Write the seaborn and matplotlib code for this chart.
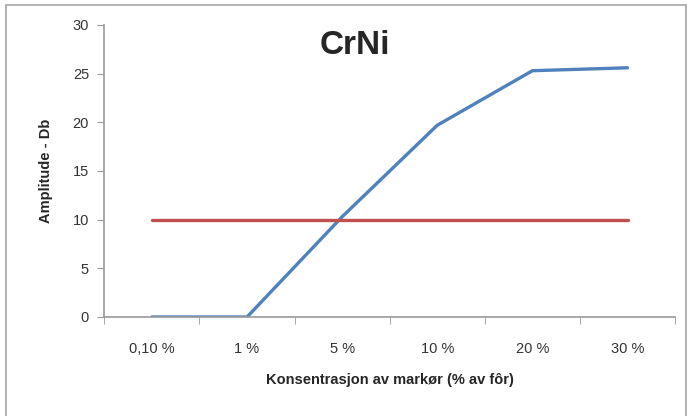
import pandas as pd
import matplotlib.pyplot as plt
import seaborn as sns
from matplotlib.patches import Rectangle

# --- data ---
kategorier = ["0,10 %", "1 %", "5 %", "10 %", "20 %", "30 %"]
amplitude = [0, 0, 10.3, 19.7, 25.3, 25.6]
grense = [10, 10, 10, 10, 10, 10]

df = pd.DataFrame({
    "konsentrasjon": kategorier * 2,
    "verdi": amplitude + grense,
    "serie": ["CrNi"] * len(kategorier) + ["Grense"] * len(kategorier),
})

sns.set_style("white")
plt.rcParams["font.family"] = ["Liberation Sans", "DejaVu Sans"]

fig = plt.figure(figsize=(6.91, 4.16), dpi=100)
ax = fig.add_axes([0.151, 0.238, 0.826, 0.702])

sns.lineplot(data=df, x="konsentrasjon", y="verdi", hue="serie",
             palette=["#4F81BD", "#C0504D"], linewidth=2.4, legend=False,
             sort=False, ax=ax)

ax.set_xlim(-0.5, len(kategorier) - 0.5)
ax.set_ylim(0, 30)
ax.set_yticks(range(0, 31, 5))
ax.set_xticks(range(len(kategorier)))
ax.set_xticklabels(kategorier)
ax.set_xticks([i - 0.5 for i in range(len(kategorier) + 1)], minor=True)

ax.tick_params(axis="x", which="major", length=0, pad=18, labelsize=10.5, colors="#333333")
ax.tick_params(axis="x", which="minor", length=5, color="#999999", direction="out", bottom=True)
ax.tick_params(axis="y", length=5, color="#999999", direction="out", left=True,
               labelsize=10.5, labelcolor="#333333", pad=6)

for s in ["top", "right"]:
    ax.spines[s].set_visible(False)
for s in ["left", "bottom"]:
    ax.spines[s].set_color("#999999")
    ax.spines[s].set_linewidth(1.2)

ax.set_xlabel("Konsentrasjon av markør (% av fôr)", fontsize=10.5, fontweight="bold", labelpad=12)
ax.set_ylabel("Amplitude - Db", fontsize=10.5, fontweight="bold", labelpad=14)
ax.text(0.439, 0.93, "CrNi", transform=ax.transAxes, ha="center", va="center",
        fontsize=24, fontweight="bold")

# outer chart border
fig.patches.append(Rectangle((6 / 691, -0.01), 680 / 691, 1 - 5 / 416 + 0.01,
                             transform=fig.transFigure, fill=False,
                             edgecolor="#a6a6a6", linewidth=1.2))

fig.savefig("out.png", dpi=100)
